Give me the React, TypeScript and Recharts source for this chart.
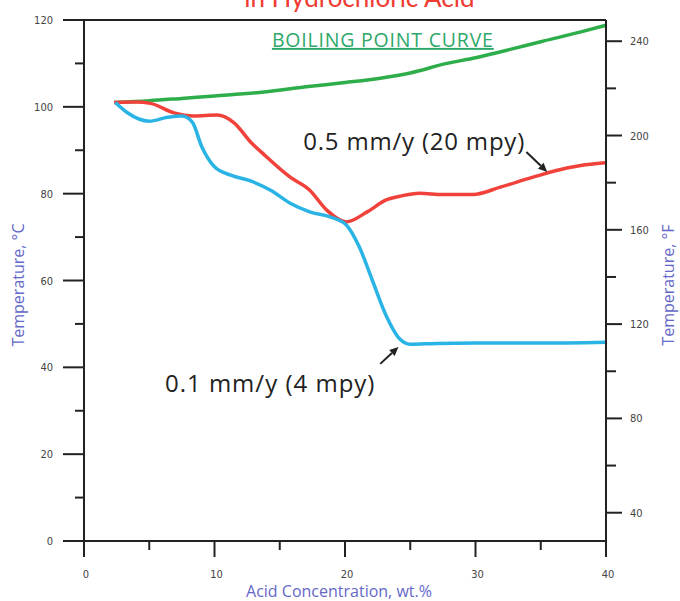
import React from 'react';
import { LineChart, Line, XAxis, YAxis, ReferenceLine, ReferenceDot, Label } from 'recharts';

// axis ticks
const concTicks = [0, 5, 10, 15, 20, 25, 30, 35, 40];
const tempCTicks = [0, 10, 20, 30, 40, 50, 60, 70, 80, 90, 100, 110, 120];
const tempFTicks = [40, 60, 80, 100, 120, 140, 160, 180, 200, 220, 240];
// the °F scale as drawn (roughly lines up with 0..120 °C)
const tempFRange = [{ c: 0, f: 28 }, { c: 40, f: 249 }];

// boiling point curve
const boilingConc = [2.3, 5, 7.7, 10, 13.8, 17, 20, 22.7, 25, 27.8, 30, 32.9, 35, 38, 40];
const boilingTemp = [101, 101.4, 102, 102.5, 103.4, 104.6, 105.6, 106.6, 107.8, 110, 111.3, 113.4, 115, 117.2, 118.8];

// 0.5 mm/y (20 mpy)
const redConc = [2.3, 4, 5.1, 6.9, 8.4, 10.2, 11.5, 12.8, 13.8, 15.8, 17.3, 18.6, 20.1, 21.7, 23.2, 24.2, 25.7, 27.5, 29.8, 31.9, 34.4, 37, 39.5, 40];
const redTemp = [101, 101.1, 100.8, 98.6, 97.9, 98.1, 96.3, 91.8, 89, 83.8, 80.8, 76.2, 73.5, 75.8, 78.6, 79.4, 80.1, 79.8, 79.8, 81.5, 83.8, 85.9, 87, 87.1];

// 0.1 mm/y (4 mpy)
const blueConc = [2.4, 3.3, 5, 6.4, 7.5, 8.3, 9, 10, 11.3, 12.7, 14.3, 15.8, 17.3, 18.9, 20.1, 21.1, 22.1, 23.2, 24.2, 25, 27, 30, 35, 40];
const blueTemp = [101, 98.7, 96.7, 97.6, 97.9, 96.5, 91, 86.2, 84.2, 83, 80.8, 77.8, 75.8, 74.6, 72.8, 67.7, 60, 51.6, 46.5, 45.3, 45.5, 45.6, 45.6, 45.8];

const toPoints = (cs: number[], ts: number[]) => cs.map((c, i) => ({ c, t: ts[i] }));
const boilingData = toPoints(boilingConc, boilingTemp);
const redData = toPoints(redConc, redTemp);
const blueData = toPoints(blueConc, blueTemp);

const AXIS = '#222';
const TICK_TEXT = '#444';
const TITLE = '#6468c8';
const TICK_FONT = '"DejaVu Sans Condensed", "Liberation Sans Narrow", sans-serif';
const LABEL_FONT = '"Open Sans", Lato, sans-serif';

const XTick = (props: any) => {
  const { x, y, payload } = props;
  const major = payload.value % 10 === 0;
  return (
    <g>
      <line x1={x} y1={y} x2={x} y2={y + (major ? 16 : 9)} stroke={AXIS} strokeWidth={2} />
      {major && (
        <text x={x + 2} y={y + 37} textAnchor="middle" fontSize={11} fontFamily={TICK_FONT} fill={TICK_TEXT}>
          {payload.value}
        </text>
      )}
    </g>
  );
};

const LeftTick = (props: any) => {
  const { x, y, payload } = props;
  const major = payload.value % 20 === 0;
  return (
    <g>
      <line x1={x - (major ? 21 : 9)} y1={y} x2={x} y2={y} stroke={AXIS} strokeWidth={2} />
      {major && (
        <text x={x - 31} y={y + 4} textAnchor="end" fontSize={11} fontFamily={TICK_FONT} fill={TICK_TEXT}>
          {payload.value}
        </text>
      )}
    </g>
  );
};

const RightTick = (props: any) => {
  const { x, y, payload } = props;
  const major = payload.value % 40 === 0;
  return (
    <g>
      <line x1={x} y1={y} x2={x + (major ? 16 : 10)} y2={y} stroke={AXIS} strokeWidth={2} />
      {major && (
        <text x={x + 24} y={y + 4} textAnchor="start" fontSize={11} fontFamily={TICK_FONT} fill={TICK_TEXT}>
          {payload.value}
        </text>
      )}
    </g>
  );
};

const Arrow = (props: any) => {
  const { x1, y1, x2, y2 } = props;
  const a = Math.atan2(y2 - y1, x2 - x1);
  const len = 9;
  const w = 4;
  const bx = x2 - len * Math.cos(a);
  const by = y2 - len * Math.sin(a);
  const px = -Math.sin(a) * w;
  const py = Math.cos(a) * w;
  return (
    <g>
      <line x1={x1} y1={y1} x2={bx} y2={by} stroke="#222" strokeWidth={2} />
      <polygon points={`${x2},${y2} ${bx + px},${by + py} ${bx - px},${by - py}`} fill="#222" />
    </g>
  );
};

const textShape = (text: string, opts: any) => (props: any) => (
  <text
    x={props.cx}
    y={props.cy}
    textAnchor={opts.anchor || 'start'}
    fontSize={opts.size}
    fontFamily={opts.font || LABEL_FONT}
    letterSpacing={opts.spacing || 0}
    fill={opts.color}
    textDecoration={opts.underline ? 'underline' : undefined}
  >
    {text}
  </text>
);

const verticalTitle = (text: string, dx: number) => (p: any) => {
  const cx = p.viewBox.x + dx;
  const cy = 285;
  return (
    <text
      x={cx}
      y={cy}
      transform={`rotate(-90 ${cx} ${cy})`}
      textAnchor="middle"
      dominantBaseline="central"
      fontSize={16}
      fontFamily={LABEL_FONT}
      fill={TITLE}
    >
      {text}
    </text>
  );
};

export default function App() {
  return (
    <div style={{ position: 'absolute', left: 0, top: 0, background: '#fff' }}>
      <LineChart width={680} height={601} margin={{ top: 20, right: 0, bottom: 0, left: 0 }}>
        <XAxis
          dataKey="c"
          type="number"
          domain={[0, 40]}
          ticks={concTicks}
          interval={0}
          height={60}
          tickSize={0}
          tickMargin={0}
          tick={<XTick />}
          axisLine={{ stroke: AXIS, strokeWidth: 2 }}
        >
          <Label
            content={(p: any) => (
              <text
                x={p.viewBox.x + p.viewBox.width / 2 - 6}
                y={p.viewBox.y + 56}
                textAnchor="middle"
                fontSize={16}
                fontFamily={LABEL_FONT}
                fill={TITLE}
              >
                Acid Concentration, wt.%
              </text>
            )}
          />
        </XAxis>
        <YAxis
          yAxisId="c"
          dataKey="t"
          type="number"
          domain={[0, 120]}
          allowDataOverflow
          ticks={tempCTicks}
          interval={0}
          width={84}
          tickSize={0}
          tickMargin={0}
          tick={<LeftTick />}
          axisLine={{ stroke: AXIS, strokeWidth: 2 }}
        >
          <Label content={verticalTitle('Temperature, °C', 18)} />
        </YAxis>
        <YAxis
          yAxisId="f"
          orientation="right"
          dataKey="f"
          type="number"
          domain={[28, 249]}
          allowDataOverflow
          ticks={tempFTicks}
          interval={0}
          width={74}
          tickSize={0}
          tickMargin={0}
          tick={<RightTick />}
          axisLine={{ stroke: AXIS, strokeWidth: 2 }}
        >
          <Label content={verticalTitle('Temperature, °F', 62)} />
        </YAxis>

        <ReferenceLine yAxisId="c" y={120} stroke={AXIS} strokeWidth={2} />

        {/* invisible series that binds the °F axis */}
        <Line
          yAxisId="f"
          data={tempFRange}
          dataKey="f"
          stroke="none"
          dot={false}
          activeDot={false}
          legendType="none"
          isAnimationActive={false}
        />

        <Line
          yAxisId="c"
          data={boilingData}
          dataKey="t"
          type="monotone"
          stroke="#2eae4a"
          strokeWidth={3.5}
          dot={false}
          isAnimationActive={false}
        />
        <Line
          yAxisId="c"
          data={redData}
          dataKey="t"
          type="monotone"
          stroke="#f0413a"
          strokeWidth={3.5}
          dot={false}
          isAnimationActive={false}
        />
        <Line
          yAxisId="c"
          data={blueData}
          dataKey="t"
          type="monotone"
          stroke="#2ab4e6"
          strokeWidth={3.5}
          dot={false}
          isAnimationActive={false}
        />

        <ReferenceLine
          yAxisId="c"
          segment={[{ x: 33.9, y: 89.6 }, { x: 35.5, y: 85 }]}
          shape={<Arrow />}
          ifOverflow="visible"
        />
        <ReferenceLine
          yAxisId="c"
          segment={[{ x: 22.7, y: 40.8 }, { x: 24.1, y: 44.7 }]}
          shape={<Arrow />}
          ifOverflow="visible"
        />

        <ReferenceDot
          yAxisId="c"
          x={21.1}
          y={123}
          r={0}
          ifOverflow="visible"
          shape={textShape('in Hydrochloric Acid', { size: 26, color: '#f03a32', anchor: 'middle', font: 'Lato, sans-serif' })}
        />
        <ReferenceDot
          yAxisId="c"
          x={14.4}
          y={113.8}
          r={0}
          ifOverflow="visible"
          shape={textShape('BOILING POINT CURVE', { size: 19.5, spacing: 0.8, color: '#2ea86a', underline: true })}
        />
        <ReferenceDot
          yAxisId="c"
          x={16.8}
          y={90}
          r={0}
          ifOverflow="visible"
          shape={textShape('0.5 mm/y (20 mpy)', { size: 24, spacing: 0.8, color: '#222' })}
        />
        <ReferenceDot
          yAxisId="c"
          x={6.2}
          y={34.3}
          r={0}
          ifOverflow="visible"
          shape={textShape('0.1 mm/y (4 mpy)', { size: 24, spacing: 1, color: '#222' })}
        />
      </LineChart>
    </div>
  );
}
